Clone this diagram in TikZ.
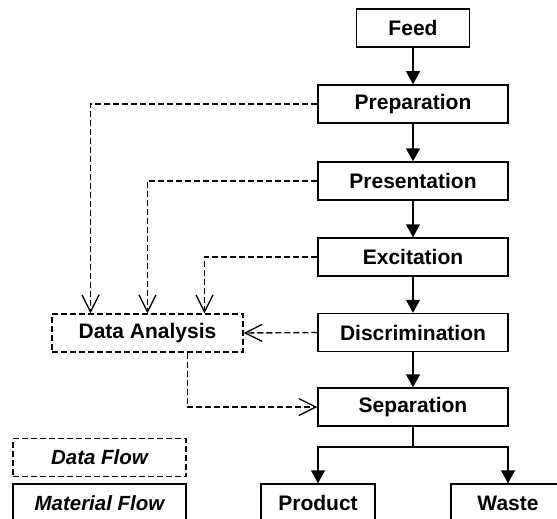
\documentclass[tikz,border=0pt]{standalone}
\usepackage{fontspec}
\setmainfont{Liberation Sans}
\usetikzlibrary{arrows.meta}

\begin{document}
\begin{tikzpicture}[x=1pt, y=-1pt,
    proc/.style={draw, line width=1.5pt, minimum width=190pt, minimum height=38pt,
        inner sep=0pt, font=\fontsize{21}{25}\selectfont\bfseries},
    dproc/.style={proc, line width=1.4pt, dash pattern=on 6pt off 3pt},
    legend/.style={proc, minimum width=173pt, font=\fontsize{20.5}{25}\selectfont\bfseries\itshape},
    mat/.style={line width=1.5pt, -{Triangle[width=14pt,length=13pt]}},
    data/.style={line width=1.4pt, dash pattern=on 6pt off 3pt,
        -{Straight Barb[width=17pt,length=17pt,line width=1.3pt]}}]
\path[use as bounding box, clip] (0,0) rectangle (557,519);

% Process chain
\node[proc, minimum width=113pt] (feed) at (413,28) {Feed};
\node[proc] (prep) at (413,104) {Preparation};
\node[proc] (pres) at (413,181) {Presentation};
\node[proc] (exc)  at (413,257) {Excitation};
\node[proc] (disc) at (413,332.5) {Discrimination};
\node[proc] (sep)  at (413,407) {Separation};
\node[proc, minimum width=114pt] (prod)  at (318,503) {Product};
\node[proc, minimum width=114pt] (waste) at (508,503) {Waste};

% Data analysis
\node[dproc, minimum width=191pt] (da) at (147.5,333) {Data Analysis};

% Legend
\node[legend, dash pattern=on 6pt off 3pt, line width=1.4pt] (ldata) at (99.5,457.5) {Data Flow};
\node[legend] (lmat) at (99.5,503) {Material Flow};

% Material flow
\draw[mat] (feed) -- (prep);
\draw[mat] (prep) -- (pres);
\draw[mat] (pres) -- (exc);
\draw[mat] (exc) -- (disc);
\draw[mat] (disc) -- (sep);
\draw[mat] (sep.south) -- ++(0,20) -| (prod.north);
\draw[mat] (sep.south) -- ++(0,20) -| (waste.north);

% Data flow
\draw[data] (prep.west) -| ([xshift=-57pt]da.north);
\draw[data] (pres.west) -| (da.north);
\draw[data] (exc.west) -| ([xshift=57pt]da.north);
\draw[data] (disc.west) -- (da.east);
\draw[data] ([xshift=40pt]da.south) |- (sep.west);
\end{tikzpicture}
\end{document}
